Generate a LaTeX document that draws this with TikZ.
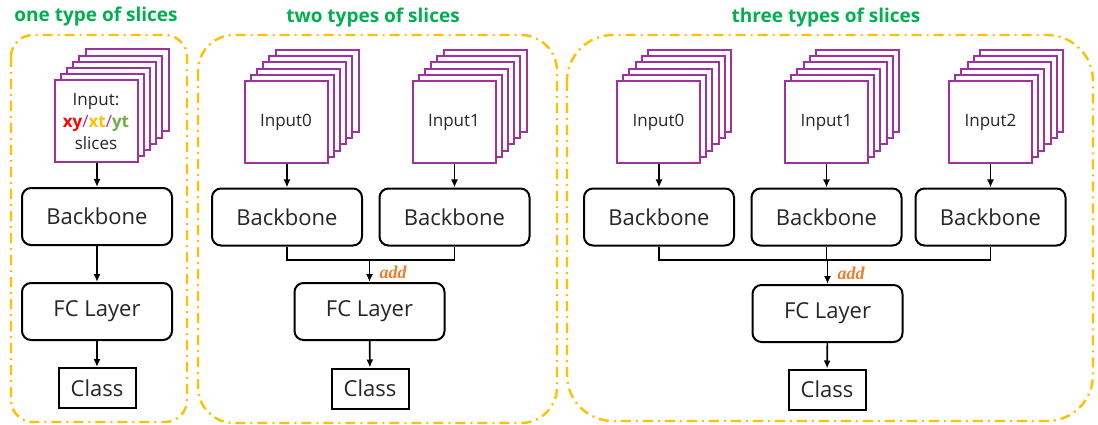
\documentclass[tikz,border=0pt]{standalone}
\usepackage{fontspec}
\setmainfont{Open Sans}
\newfontfamily\addfont{Liberation Serif}
\usetikzlibrary{arrows.meta,calc}
\definecolor{framey}{RGB}{255,192,0}
\definecolor{titleg}{RGB}{0,176,80}
\definecolor{slicep}{RGB}{160,50,160}
\definecolor{addo}{RGB}{237,125,49}
\definecolor{txt}{RGB}{38,38,38}
\definecolor{xtc}{RGB}{255,192,0}
\definecolor{ytc}{RGB}{112,173,71}
\tikzset{
  panel/.style={draw=framey, line width=2.4pt, dash pattern=on 10pt off 5pt on 2pt off 5pt},
  ptitle/.style={text=titleg, font=\fontsize{19}{22}\selectfont\bfseries},
  slice/.style={draw=slicep, line width=2pt, fill=white, minimum width=83pt, minimum height=82pt, inner sep=0pt},
  slicetext/.style={text=txt, font=\fontsize{17}{22}\selectfont, align=center},
  blockbox/.style={draw=black, line width=2pt, rounded corners=9pt, fill=white, minimum width=150pt, minimum height=57pt, text=txt, font=\fontsize{22}{26}\selectfont},
  classbox/.style={draw=black, line width=2pt, fill=white, minimum width=77pt, minimum height=40pt, text=txt, font=\fontsize{22}{26}\selectfont},
  link/.style={line width=1.6pt, draw=black},
  flow/.style={link, -{Latex[length=8pt,width=7pt]}},
  addlbl/.style={text=addo, font=\addfont\fontsize{18}{18}\selectfont\bfseries\itshape, anchor=west}
}
% a stack of slices: five layers behind the named front square
\newcommand{\slicestack}[4]{%
  \foreach \k in {5,4,3,2,1}{
    \draw[draw=slicep, line width=2pt, fill=white]
      ($(#2,#3)+(\k*6.2-41.5,-\k*6.2-41)$) rectangle ++(83,82);
  }
  \node[slice, slicetext] (#1) at (#2,#3) {#4};
}
\begin{document}
\begin{tikzpicture}[x=1pt, y=-1pt]
\useasboundingbox (0,0) rectangle (1098,425);

% ---------------- one type of slices ----------------
\draw[panel, rounded corners=22pt] (11,35) rectangle (187,422);
\node[ptitle] (t1) at (96,17) {one type of slices};
\slicestack{a-in}{96}{121.5}{Input:\\{\color{red}\bfseries xy}{\color{slicep}/}{\color{xtc}\bfseries xt}{\color{slicep}/}{\color{ytc}\bfseries yt}\\slices}
\node[blockbox] (a-bb) at (97,216.5) {Backbone};
\node[blockbox] (a-fc) at (97,311.5) {FC Layer};
\node[classbox] (a-cl) at (97,388) {Class};
\draw[flow] (a-in.south -| a-bb.north) -- (a-bb.north);
\draw[flow] (a-bb) -- (a-fc);
\draw[flow] (a-fc) -- (a-cl);

% ---------------- two types of slices ----------------
\draw[panel, rounded corners=36pt] (198,35) rectangle (557,423);
\node[ptitle] (t2) at (373,18) {two types of slices};
\slicestack{b-in0}{286}{122}{Input0}
\slicestack{b-in1}{454}{122}{Input1}
\node[blockbox] (b-bb0) at (287,217) {Backbone};
\node[blockbox] (b-bb1) at (454.5,217) {Backbone};
\node[blockbox] (b-fc) at (369.5,311.5) {FC Layer};
\node[classbox] (b-cl) at (370,388.5) {Class};
\coordinate (b-m) at (369.5,260);
\draw[flow] (b-in0.south -| b-bb0.north) -- (b-bb0.north);
\draw[flow] (b-in1.south -| b-bb1.north) -- (b-bb1.north);
\draw[link] (b-bb0.south) |- (b-m) -| (b-bb1.south);
\draw[flow] (b-m) -- (b-fc.north);
\node[addlbl] (b-add) at (376,272) {add};
\draw[flow] (b-fc) -- (b-cl);

% ---------------- three types of slices ----------------
\draw[panel, rounded corners=46pt] (567,35) rectangle (1093,421);
\node[ptitle] (t3) at (826,18) {three types of slices};
\slicestack{c-in0}{658.5}{122}{Input0}
\slicestack{c-in1}{826.5}{122}{Input1}
\slicestack{c-in2}{990.5}{122}{Input2}
\node[blockbox] (c-bb0) at (659,217) {Backbone};
\node[blockbox] (c-bb1) at (826.5,217) {Backbone};
\node[blockbox] (c-bb2) at (990.5,217) {Backbone};
\node[blockbox] (c-fc) at (827.5,313.5) {FC Layer};
\node[classbox] (c-cl) at (827,389.5) {Class};
\coordinate (c-m) at (827.5,260);
\draw[flow] (c-in0.south -| c-bb0.north) -- (c-bb0.north);
\draw[flow] (c-in1.south -| c-bb1.north) -- (c-bb1.north);
\draw[flow] (c-in2.south -| c-bb2.north) -- (c-bb2.north);
\draw[link] (c-bb0.south) |- (c-m) -| (c-bb2.south);
\draw[link] (c-bb1.south) -- (c-bb1.south |- c-m);
\draw[flow] (c-m) -- (c-fc.north);
\node[addlbl] (c-add) at (834,273) {add};
\draw[flow] (c-fc) -- (c-cl);
\end{tikzpicture}
\end{document}
